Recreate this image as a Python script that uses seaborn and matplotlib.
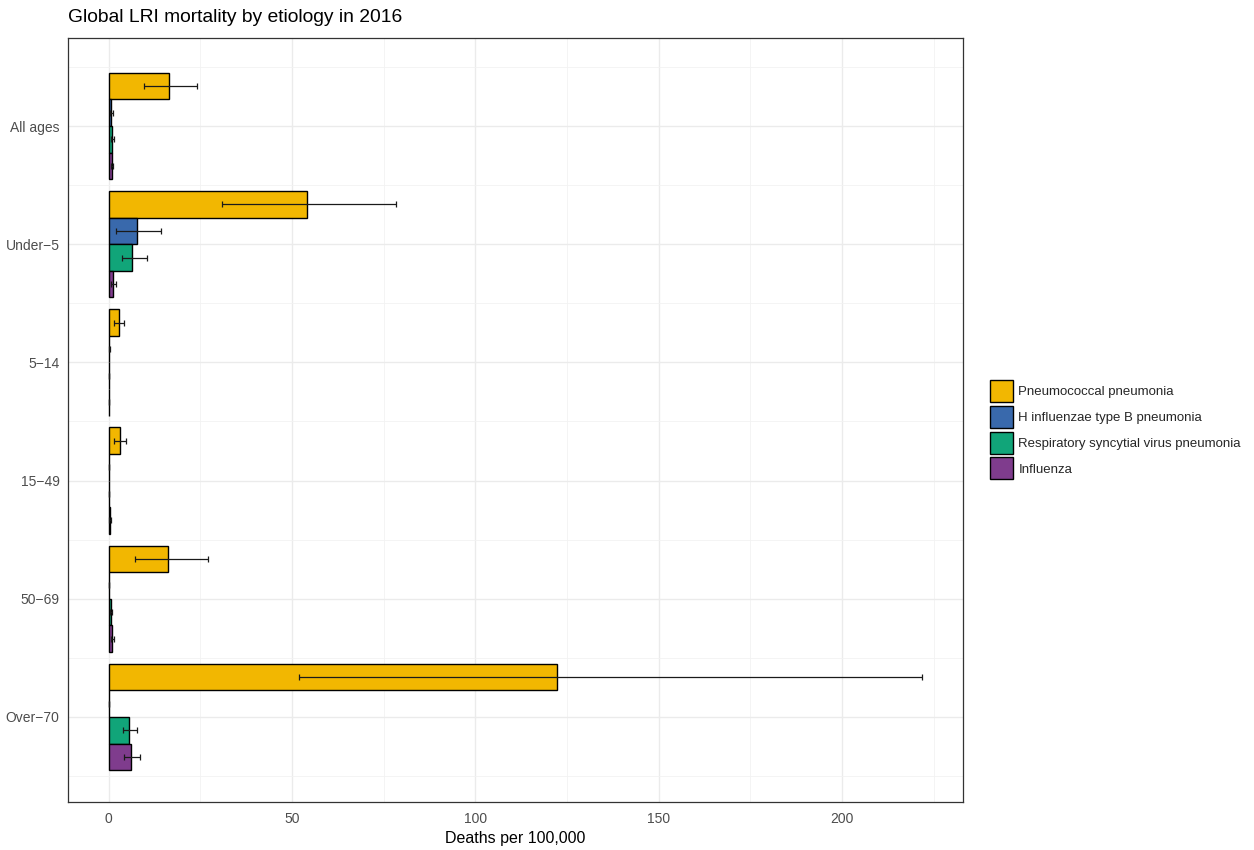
import numpy as np
import pandas as pd
import matplotlib
matplotlib.use("Agg")
import matplotlib.pyplot as plt
import matplotlib.patches as mpatches
import seaborn as sns

age_groups = ["All ages", "Under\u22125", "5\u221214", "15\u221249", "50\u221269", "Over\u221270"]
etiologies = ["Pneumococcal pneumonia", "H influenzae type B pneumonia",
              "Respiratory syncytial virus pneumonia", "Influenza"]

pneumo = [16.4, 54.1, 2.7, 3.0, 16.3, 122.4]
pneumo_lo = [9.6, 30.9, 1.5, 1.5, 7.1, 51.9]
pneumo_hi = [24.0, 78.4, 4.3, 4.8, 27.2, 221.9]

hib = [0.6, 7.6, 0.1, 0.0, 0.1, 0.0]
hib_lo = [0.4, 2.1, 0.05, 0.0, 0.05, 0.0]
hib_hi = [1.2, 14.3, 0.4, 0.05, 0.2, 0.0]

rsv = [0.9, 6.4, 0.05, 0.1, 0.6, 5.5]
rsv_lo = [0.6, 3.5, 0.02, 0.05, 0.3, 3.8]
rsv_hi = [1.4, 10.5, 0.1, 0.2, 1.0, 7.7]

flu = [0.9, 1.2, 0.05, 0.3, 0.9, 6.2]
flu_lo = [0.6, 0.6, 0.02, 0.2, 0.6, 4.1]
flu_hi = [1.2, 2.0, 0.1, 0.5, 1.4, 8.5]

colors = ["#F2B701", "#3969AC", "#11A579", "#7F3C8D"]

vals = [pneumo, hib, rsv, flu]
los = [pneumo_lo, hib_lo, rsv_lo, flu_lo]
his = [pneumo_hi, hib_hi, rsv_hi, flu_hi]

rows = []
for e, v, lo, hi in zip(etiologies, vals, los, his):
    for g, a, b, c in zip(age_groups, v, lo, hi):
        rows.append({"age": g, "etiology": e, "value": a, "lo": b, "hi": c})
df = pd.DataFrame(rows)

sns.set_theme(style="white")
plt.rcParams["font.family"] = ["Liberation Sans", "DejaVu Sans"]

fig = plt.figure(figsize=(12.54, 8.5), dpi=100)
ax = fig.add_axes([68 / 1254, 1 - 802 / 850, (963 - 68) / 1254, (802 - 38) / 850])

sns.barplot(data=df, y="age", x="value", hue="etiology", order=age_groups,
            hue_order=etiologies, palette=colors, orient="h", width=0.9,
            errorbar=None, edgecolor="black", linewidth=1.0, ax=ax,
            legend=False, saturation=1)

# error bars positioned from seaborn's drawn bars
for i, e in enumerate(etiologies):
    cont = ax.containers[i]
    sub = df[df["etiology"] == e].set_index("age").loc[age_groups]
    ys = [p.get_y() + p.get_height() / 2 for p in cont.patches]
    xs = sub["value"].values
    xerr = np.vstack([xs - sub["lo"].values, sub["hi"].values - xs])
    ax.errorbar(xs, ys, xerr=xerr, fmt="none", ecolor="#1a1a1a",
                elinewidth=0.9, capsize=2.4, capthick=0.9, zorder=5)

ax.set_xlim(-11.1, 233.0)
ax.set_ylim(5.72, -0.745)
ax.set_xticks([0, 50, 100, 150, 200])
ax.set_xticks([25, 75, 125, 175, 225], minor=True)
ax.set_yticks(range(6))
ax.set_yticks(np.arange(-0.5, 6.0, 1.0), minor=True)
ax.set_yticklabels(age_groups)
ax.grid(True, which="major", color="#EBEBEB", linewidth=1.0)
ax.grid(True, which="minor", color="#F2F2F2", linewidth=0.6)
ax.set_axisbelow(True)
ax.tick_params(axis="both", which="major", length=4, color="#333333",
               labelsize=10, labelcolor="#4D4D4D", width=0.8)
ax.tick_params(axis="both", which="minor", length=0)
ax.tick_params(axis="y", pad=2)
for s in ax.spines.values():
    s.set_color("#333333")
    s.set_linewidth(0.9)
ax.set_xlabel("Deaths per 100,000", fontsize=11.5, color="black", labelpad=3)
ax.set_ylabel("")

fig.text(68 / 1254, 1 - 18 / 850, "Global LRI mortality by etiology in 2016",
         fontsize=13.9, ha="left", va="center", color="black")

handles = [mpatches.Patch(facecolor=c, edgecolor="black", linewidth=1.0, label=l)
           for c, l in zip(colors, etiologies)]
fig.legend(handles=handles, loc="upper left",
           bbox_to_anchor=(990 / 1254, 1 - 380 / 850), frameon=False,
           fontsize=9.5, handlelength=1.75, handleheight=2.2,
           labelspacing=0.28, handletextpad=0.4, borderaxespad=0, borderpad=0)

fig.savefig("out.png", dpi=100)
